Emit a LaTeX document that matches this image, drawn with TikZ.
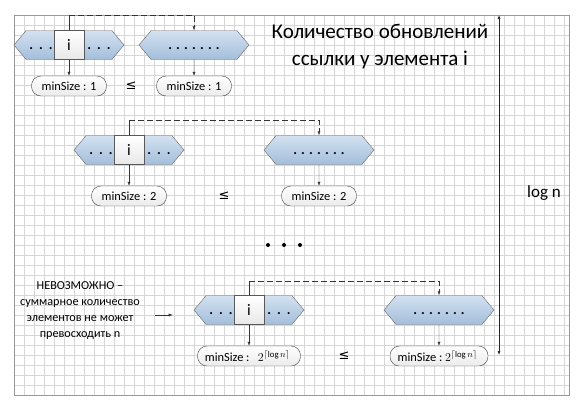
\documentclass[tikz,border=0pt]{standalone}
\usepackage{fontspec}
\setmainfont{Carlito}
\newfontfamily\symfont{DejaVu Sans}
\usetikzlibrary{positioning,shapes.symbols,arrows.meta}
\definecolor{hexlight}{HTML}{D3E1F0}
\definecolor{hexdark}{HTML}{A3BEDB}
\definecolor{gridgray}{HTML}{D6D6D6}
\newcommand{\dthree}{.\hspace{6pt}.\hspace{6pt}.}
\newcommand{\dseven}{.\hspace{4.2pt}.\hspace{4.2pt}.\hspace{4.2pt}.\hspace{4.2pt}.\hspace{4.2pt}.\hspace{4.2pt}.}
\newcommand{\lesym}{{\symfont ≤}}

\begin{document}
\begin{tikzpicture}[x=1pt,y=-1pt,on grid,
font=\fontsize{12.4}{14}\selectfont,
hexa/.style={signal, signal to=east and west, signal pointer angle=100,
  draw=black!60, top color=hexlight, bottom color=hexdark,
  minimum width=110pt, minimum height=29pt, inner sep=0pt,
  font=\fontsize{14}{14}\bfseries, text height=8pt, text depth=0pt},
cell/.style={draw=black!65, top color=white, bottom color=black!9,
  minimum width=30pt, minimum height=29pt, inner sep=0pt,
  font=\fontsize{16}{16}\selectfont},
dots/.style={inner sep=0pt, font=\fontsize{14}{14}\bfseries,
  text height=8pt, text depth=0pt},
size/.style={draw=black!75, rounded corners=9.5pt, top color=white,
  bottom color=black!8, minimum width=75pt, minimum height=20pt, inner sep=3pt},
link/.style={-{Latex[length=4pt,width=3pt]}, black!80},
jump/.style={link, dash pattern=on 6pt off 3pt}]
\useasboundingbox (0,0) rectangle (580,410);
% background grid
\foreach \gx in {24,34,...,564} \draw[gridgray] (\gx,15) -- (\gx,395);
\foreach \gy in {25,35,...,385} \draw[gridgray] (14,\gy) -- (569,\gy);
\draw[black!40] (14,15) rectangle (569,395);
% first row
\node[hexa] (L1) at (69,45) {};
\node[cell] (i1) at (L1) {i};
\node[dots] (l1) [left=28pt of i1] {\dthree};
\node[dots] (r1) [right=30pt of i1] {\dthree};
\node[hexa] (R1) [right=125pt of L1] {\dseven};
\node[size] (S1) [below=41pt of L1] {minSize : 1};
\node[size] (T1) [below=41pt of R1] {minSize : 1};
\node[font=\fontsize{13}{13}\selectfont] (le1) [right=62pt of S1] {\lesym};
\draw[link] (i1) -- (S1);
\draw[link] (R1) -- (T1);
\draw[black!80] (i1.north) -- ++(0,-15) coordinate (u1);
\draw[jump] (u1) -| (R1.north);
% second row
\node[hexa] (L2) at (129,150) {};
\node[cell] (i2) at (L2) {i};
\node[dots] (l2) [left=28pt of i2] {\dthree};
\node[dots] (r2) [right=30pt of i2] {\dthree};
\node[hexa] (R2) [right=190pt of L2] {\dseven};
\node[size] (S2) [below=46pt of L2] {minSize : 2};
\node[size] (T2) [below=46pt of R2] {minSize : 2};
\node[font=\fontsize{13}{13}\selectfont] (le2) [right=95pt of S2] {\lesym};
\draw[link] (i2) -- (S2);
\draw[link] (R2) -- (T2);
\draw[black!80] (i2.north) -- ++(0,-15) coordinate (u2);
\draw[jump] (u2) -| (R2.north);
% skipped rows
\foreach \k in {-1,0,1} \fill ({284+16*\k},245) circle (2pt);
% last row
\node[hexa] (L3) at (249,310) {};
\node[cell] (i3) at (L3) {i};
\node[dots] (l3) [left=28pt of i3] {\dthree};
\node[dots] (r3) [right=30pt of i3] {\dthree};
\node[hexa] (R3) [right=190pt of L3] {\dseven};
\node[size, minimum width=103pt] (S3) [below=46pt of L3]
  {minSize :\ \ \ $2^{\lceil\log n\rceil}$\ \ };
\node[size, minimum width=98pt] (T3) [below=46pt of R3]
  {minSize :\ $2^{\lceil\log n\rceil}$\ \ };
\node[font=\fontsize{13}{13}\selectfont] (le3) [right=95pt of S3] {\lesym};
\draw[link] (i3) -- (S3);
\draw[link] (R3) -- (T3);
\draw[black!80] (i3.north) -- ++(0,-14) coordinate (u3);
\draw[jump] (u3) -| (R3.north);
% texts
\node[align=center, font=\fontsize{21}{27}\selectfont] (head) at (380,47)
  {Количество обновлений\\ссылки у элемента i};
\node[align=center, font=\fontsize{12.2}{16}\selectfont] (note) at (80,311)
  {НЕВОЗМОЖНО –\\суммарное количество\\элементов не может\\превосходить n};
\coordinate (a3) at (155,315);
\draw[link, shorten >=21pt] (a3) -- (a3 -| L3.west);
% height of the stack
\coordinate (top) at (499,15);
\coordinate (bot) at (499,355);
\draw[{Latex[length=4pt,width=3pt]}-{Latex[length=4pt,width=3pt]}, black!85, semithick] (top) -- (bot);
\node[font=\fontsize{17}{17}\selectfont] (logn) at (544,193) {log n};
\end{tikzpicture}
\end{document}
